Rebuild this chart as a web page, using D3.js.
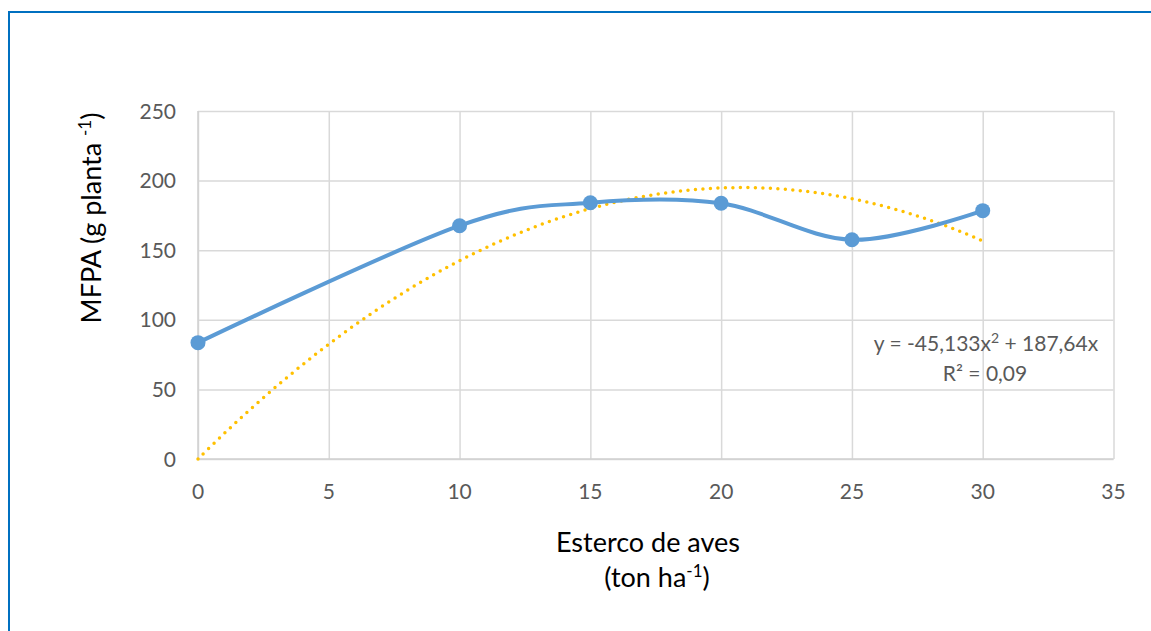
<!DOCTYPE html>
<html><head><meta charset="utf-8">
<script src="https://cdn.jsdelivr.net/npm/d3@7"></script>
<style>html,body{margin:0;padding:0;background:#fff;}svg{display:block;font-family:Lato,"Open Sans",sans-serif;}</style>
</head><body><svg id="c" width="1151" height="631"></svg>
<script>
const xValues = [0, 10, 15, 20, 25, 30];
const mfpa = [83.6, 167.6, 184.1, 183.7, 157.5, 178.4];
const xTicks = [0, 5, 10, 15, 20, 25, 30, 35];
const yTicks = [0, 50, 100, 150, 200, 250];
// Trendline shown on chart: y = -45,133x² + 187,64x (x in steps of 10 t/ha)
const trendCoef = [-45.133, 187.64];
const trendUnit = 10;
const trendRange = [0, 30];

const svg = d3.select("#c");
const x = d3.scaleLinear().domain([0, 35]).range([198, 1113.5]);
const y = d3.scaleLinear().domain([0, 250]).range([459, 111]);

// border
svg.append("path").attr("d", "M9,631 L9,12 L1151,12").attr("fill","none").attr("stroke","#0070C0").attr("stroke-width",2);

// gridlines
const gx = svg.append("g").attr("transform","translate(0,459)")
  .call(d3.axisBottom(x).tickValues(xTicks).tickSize(-348).tickFormat(""));
const gy = svg.append("g").attr("transform","translate(198,0)")
  .call(d3.axisLeft(y).tickValues(yTicks).tickSize(-915.5).tickFormat(""));
[gx, gy].forEach(g => { g.select(".domain").remove(); g.selectAll("line").attr("stroke","#d9d9d9").attr("stroke-width",1.5); });
svg.append("line").attr("x1",198).attr("x2",1113.5).attr("y1",459).attr("y2",459).attr("stroke","#d0d0d0").attr("stroke-width",1.5);
svg.append("line").attr("x1",198).attr("x2",198).attr("y1",111).attr("y2",459).attr("stroke","#d0d0d0").attr("stroke-width",1.5);

// tick labels
svg.append("g").selectAll("text").data(xTicks).join("text")
  .attr("x", d => x(d)).attr("y", 499).attr("text-anchor","middle")
  .attr("font-size",21).attr("fill","#595959").text(d => d);
svg.append("g").selectAll("text").data(yTicks).join("text")
  .attr("x", 176).attr("y", d => y(d) + 7.5).attr("text-anchor","end")
  .attr("font-size",21).attr("fill","#595959").text(d => d);

// trendline
const tPts = d3.range(0, 61).map(i => {
  const xv = trendRange[0] + (trendRange[1]-trendRange[0]) * i / 60;
  const u = xv / trendUnit;
  return [xv, trendCoef[0]*u*u + trendCoef[1]*u];
});
svg.append("path").datum(tPts)
  .attr("d", d3.line().x(d => x(d[0])).y(d => y(d[1])).curve(d3.curveBasis))
  .attr("fill","none").attr("stroke","#FFC000").attr("stroke-width",3.5)
  .attr("stroke-linecap","round").attr("stroke-dasharray","0,7.5");

// series line
const data = xValues.map((v,i) => [v, mfpa[i]]);
svg.append("path").datum(data)
  .attr("d", d3.line().x(d => x(d[0])).y(d => y(d[1])).curve(d3.curveCatmullRom.alpha(0)))
  .attr("fill","none").attr("stroke","#5B9BD5").attr("stroke-width",4).attr("stroke-linejoin","round");
svg.append("g").selectAll("circle").data(data).join("circle")
  .attr("cx", d => x(d[0])).attr("cy", d => y(d[1])).attr("r", 7.5).attr("fill","#5B9BD5");

// equation
const eq = svg.append("text").attr("x", 986).attr("y", 351).attr("text-anchor","middle")
  .attr("font-size",21).attr("fill","#595959");
eq.append("tspan").text("y = -45,133x");
eq.append("tspan").text("2").attr("font-size",14).attr("dy",-8);
eq.append("tspan").text(" + 187,64x").attr("dy",8);
svg.append("text").attr("x", 985).attr("y", 381).attr("text-anchor","middle")
  .attr("font-size",21).attr("fill","#595959").text("R² = 0,09");

// axis titles
const yt = svg.append("text").attr("transform","translate(101,218) rotate(-90)")
  .attr("text-anchor","middle").attr("font-size",27).attr("fill","#000");
yt.append("tspan").text("MFPA (g planta ");
yt.append("tspan").text("-1").attr("font-size",17).attr("dy",-10);
yt.append("tspan").text(")").attr("dy",10);

svg.append("text").attr("x",648).attr("y",552).attr("text-anchor","middle")
  .attr("font-size",27).attr("fill","#000").text("Esterco de aves");
const xt = svg.append("text").attr("x",657).attr("y",587).attr("text-anchor","middle")
  .attr("font-size",27).attr("fill","#000");
xt.append("tspan").text("(ton ha");
xt.append("tspan").text("-1").attr("font-size",17).attr("dy",-10);
xt.append("tspan").text(")").attr("dy",10);
</script></body></html>
